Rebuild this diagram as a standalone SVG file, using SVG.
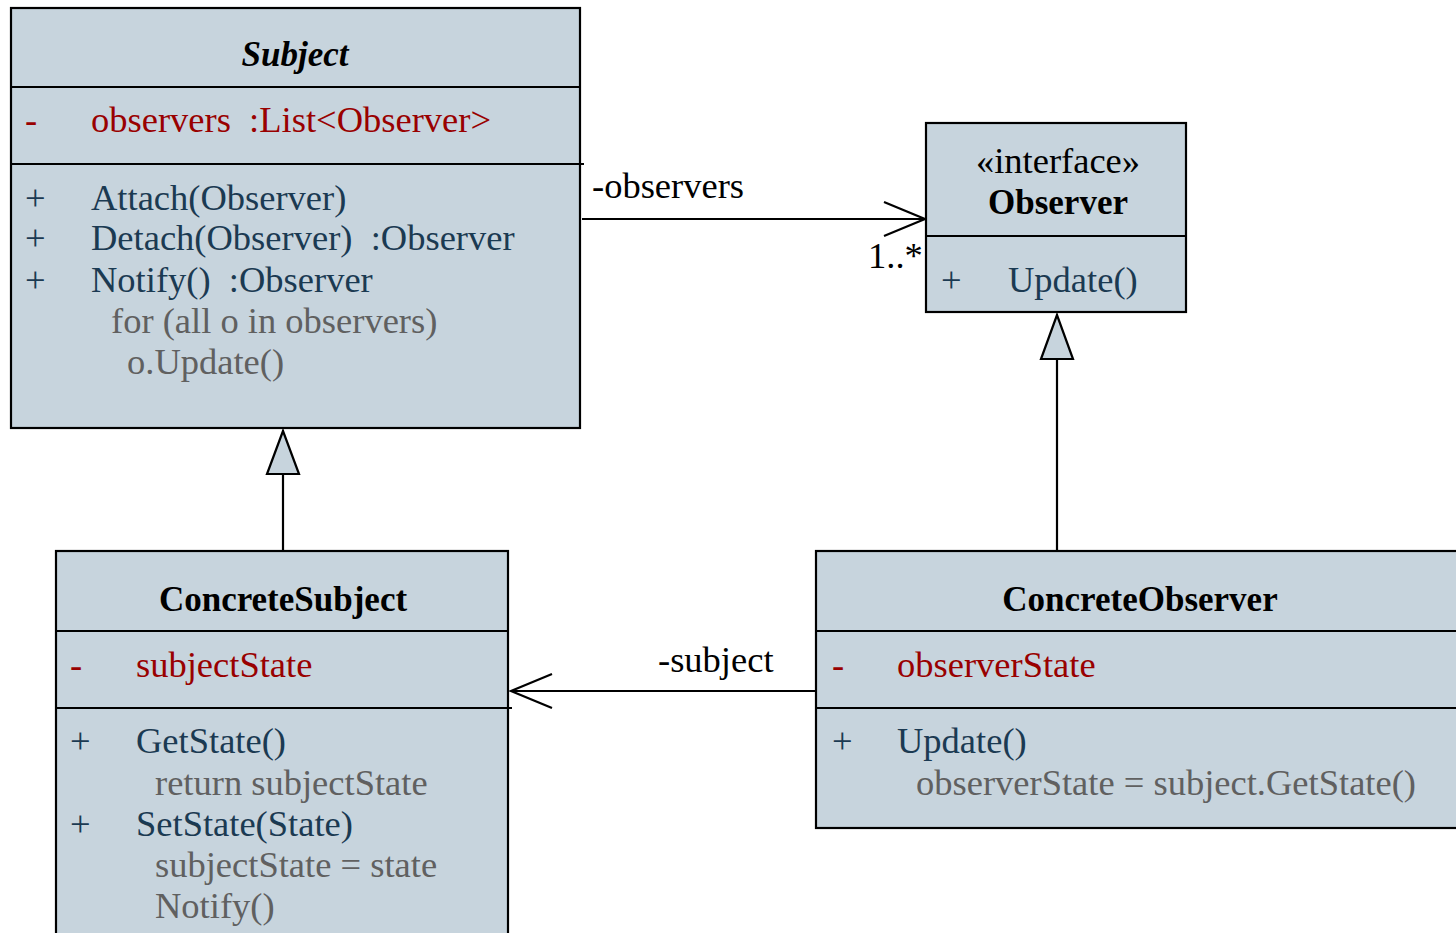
<svg xmlns="http://www.w3.org/2000/svg" width="1456" height="933" viewBox="0 0 1456 933">
<style>
.box{fill:#c7d4dd;stroke:#000;stroke-width:2.2}
.div{stroke:#000;stroke-width:2.2;fill:none}
.t{font-family:"Liberation Serif","Times New Roman",serif;font-size:36.5px}
.title{font-weight:bold;fill:#000;font-size:35px}
.attr{fill:#990000}
.meth{fill:#1b3a52}
.code{fill:#606060}
.lbl{fill:#000}
.edge{stroke:#000;stroke-width:2.2;fill:none}
.gen{fill:#c7d4dd;stroke:#000;stroke-width:2.2}
</style>
<rect width="1456" height="933" fill="#fff"/>
<g id="connectors">
  <line class="edge" x1="582" y1="219" x2="925" y2="219"/>
  <polyline class="edge" points="884,202 925,219 884,236"/>
  <text class="t lbl" x="592" y="198">-observers</text>
  <text class="t lbl" x="868" y="268">1..*</text>
  <line class="edge" x1="815" y1="691" x2="511" y2="691"/>
  <polyline class="edge" points="552,674 511,691 552,708"/>
  <text class="t lbl" x="658" y="672">-subject</text>
  <line class="edge" x1="283" y1="474" x2="283" y2="551"/>
  <polygon class="gen" points="283,431 267,474 299,474"/>
  <line class="edge" x1="1057" y1="359" x2="1057" y2="551"/>
  <polygon class="gen" points="1057,315 1041,359 1073,359"/>
</g>
<g id="Subject">
  <rect class="box" x="11" y="8" width="569" height="420"/>
  <line class="div" x1="11" y1="87" x2="580" y2="87"/>
  <line class="div" x1="11" y1="164" x2="584" y2="164"/>
  <text class="t title" x="295" y="66" text-anchor="middle" font-style="italic">Subject</text>
  <text class="t attr" x="25" y="132">-</text>
  <text class="t attr" x="91" y="132" xml:space="preserve">observers  :List&lt;Observer&gt;</text>
  <text class="t meth" x="25" y="210">+</text>
  <text class="t meth" x="91" y="210">Attach(Observer)</text>
  <text class="t meth" x="25" y="250">+</text>
  <text class="t meth" x="91" y="250" xml:space="preserve">Detach(Observer)  :Observer</text>
  <text class="t meth" x="25" y="292">+</text>
  <text class="t meth" x="91" y="292" xml:space="preserve">Notify()  :Observer</text>
  <text class="t code" x="111" y="333">for (all o in observers)</text>
  <text class="t code" x="127" y="374">o.Update()</text>
</g>
<g id="Observer">
  <rect class="box" x="926" y="123" width="260" height="189"/>
  <line class="div" x1="926" y1="236" x2="1186" y2="236"/>
  <text class="t lbl" x="1058" y="173" text-anchor="middle">«interface»</text>
  <text class="t title" x="1058" y="214" text-anchor="middle">Observer</text>
  <text class="t meth" x="941" y="292">+</text>
  <text class="t meth" x="1008" y="292">Update()</text>
</g>
<g id="ConcreteSubject">
  <rect class="box" x="56" y="551" width="452" height="400"/>
  <line class="div" x1="56" y1="631" x2="508" y2="631"/>
  <line class="div" x1="56" y1="708" x2="512" y2="708"/>
  <text class="t title" x="283" y="611" text-anchor="middle">ConcreteSubject</text>
  <text class="t attr" x="70" y="677">-</text>
  <text class="t attr" x="136" y="677">subjectState</text>
  <text class="t meth" x="70" y="753">+</text>
  <text class="t meth" x="136" y="753">GetState()</text>
  <text class="t code" x="155" y="795">return subjectState</text>
  <text class="t meth" x="70" y="836">+</text>
  <text class="t meth" x="136" y="836">SetState(State)</text>
  <text class="t code" x="155" y="877">subjectState = state</text>
  <text class="t code" x="155" y="918">Notify()</text>
</g>
<g id="ConcreteObserver">
  <rect class="box" x="816" y="551" width="660" height="277"/>
  <line class="div" x1="816" y1="631" x2="1456" y2="631"/>
  <line class="div" x1="816" y1="708" x2="1456" y2="708"/>
  <text class="t title" x="1140" y="611" text-anchor="middle">ConcreteObserver</text>
  <text class="t attr" x="832" y="677">-</text>
  <text class="t attr" x="897" y="677">observerState</text>
  <text class="t meth" x="832" y="753">+</text>
  <text class="t meth" x="897" y="753">Update()</text>
  <text class="t code" x="916" y="795">observerState = subject.GetState()</text>
</g>
</svg>
